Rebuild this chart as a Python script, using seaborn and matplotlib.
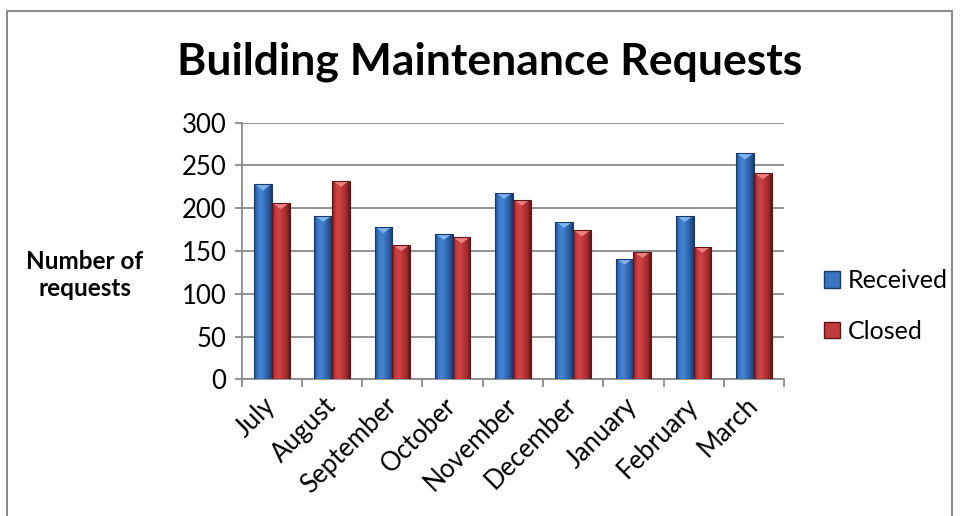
import numpy as np
import pandas as pd
import seaborn as sns
import matplotlib.pyplot as plt
from matplotlib.colors import LinearSegmentedColormap
from matplotlib.patches import Rectangle, Polygon, Patch

# Data
months = ['July', 'August', 'September', 'October', 'November',
          'December', 'January', 'February', 'March']
received = [228, 191, 178, 170, 218, 184, 141, 191, 264]
closed = [206, 232, 157, 166, 210, 174, 149, 155, 241]
series = ['Received', 'Closed']
y_ticks = [0, 50, 100, 150, 200, 250, 300]

df = pd.DataFrame({
    'month': months * 2,
    'series': ['Received'] * len(months) + ['Closed'] * len(months),
    'requests': received + closed,
})

sns.set_style('white')
plt.rcParams['font.family'] = ['Lato', 'DejaVu Sans']
plt.rcParams['text.color'] = 'black'
plt.rcParams['xtick.labelcolor'] = 'black'
plt.rcParams['ytick.labelcolor'] = 'black'

fig = plt.figure(figsize=(9.6, 5.16), dpi=100)
ax = fig.add_axes([0.2518, 0.2649, 0.5649, 0.4973])

palette = {'Received': '#3A74C2', 'Closed': '#C23A3C'}
sns.barplot(data=df, x='month', y='requests', hue='series', order=months,
            hue_order=series, palette=palette, width=0.59, gap=0,
            saturation=1, legend=False, ax=ax)

# bevel look: horizontal gradient clipped to each bar, light triangle on top
cmaps = {
    'Received': LinearSegmentedColormap.from_list(
        'b', ['#1d4a86', '#3b78c8', '#4684d4', '#3670bb', '#2a5c9e', '#173d70']),
    'Closed': LinearSegmentedColormap.from_list(
        'r', ['#7c1e1f', '#c93a3c', '#d04446', '#bb3436', '#a12b2d', '#651718']),
}
edges = {'Received': '#183a66', 'Closed': '#5e1516'}
tops = {'Received': '#7db3ee', 'Closed': '#ee8080'}
grad = np.linspace(0, 1, 64).reshape(1, -1)

for name, cont in zip(series, ax.containers):
    for bar in cont:
        x0, w, h = bar.get_x(), bar.get_width(), bar.get_height()
        im = ax.imshow(grad, extent=[x0, x0 + w, 0, h], aspect='auto',
                       cmap=cmaps[name], interpolation='bilinear', zorder=3)
        im.set_clip_path(bar)
        bar.set_facecolor('none')
        bar.set_edgecolor(edges[name])
        bar.set_linewidth(0.8)
        bar.set_zorder(4)
        ax.add_patch(Polygon([(x0 + w * 0.08, h - 0.6), (x0 + w * 0.92, h - 0.6),
                              (x0 + w / 2, h - 7)], closed=True,
                             facecolor=tops[name], edgecolor='none', zorder=3.5))

ax.set_xlim(-0.5, len(months) - 0.5)
ax.set_ylim(0, 300)
ax.set_yticks(y_ticks)
ax.set_xlabel('')
ax.set_ylabel('')

grid_col = '#8a8a8a'
ax.grid(axis='y', color=grid_col, lw=1.3, zorder=0)
ax.set_axisbelow(True)
for s in ['top', 'right']:
    ax.spines[s].set_visible(False)
for s in ['left', 'bottom']:
    ax.spines[s].set_color(grid_col)
    ax.spines[s].set_linewidth(1.3)

ax.set_xticks(np.arange(-0.5, len(months)), minor=True)
ax.tick_params(axis='x', which='major', length=0, pad=16, labelsize=18.5)
ax.tick_params(axis='x', which='minor', bottom=True, length=6, width=1.3,
               color=grid_col, direction='out')
ax.tick_params(axis='y', left=True, length=5, width=1.3, color=grid_col,
               labelsize=18.5, pad=6)
ax.set_xticks(range(len(months)))
ax.set_xticklabels(months, rotation=45, ha='right', va='center',
                   rotation_mode='anchor')

fig.text(490 / 960, 1 - 62 / 516, 'Building Maintenance Requests',
         ha='center', va='center', fontsize=32, fontweight='bold')
fig.text(85 / 960, 1 - 275 / 516, 'Number of\nrequests', ha='center',
         va='center', fontsize=17.5, fontweight='bold', linespacing=1.25)

handles = [Patch(facecolor=palette[s], edgecolor=edges[s]) for s in series]
fig.legend(handles, series, loc='center left',
           bbox_to_anchor=(814 / 960, 1 - 306 / 516), frameon=False,
           fontsize=18, labelspacing=1.1, handlelength=0.65,
           handleheight=0.65, handletextpad=0.3, borderaxespad=0)

# outer chart border
fig.patches.append(Rectangle((7 / 960, -0.05), 945 / 960, 1.05 - 10.5 / 516,
                             transform=fig.transFigure, fill=False,
                             edgecolor='#8c8c8c', lw=1.5))

fig.savefig('out.png', dpi=100)
